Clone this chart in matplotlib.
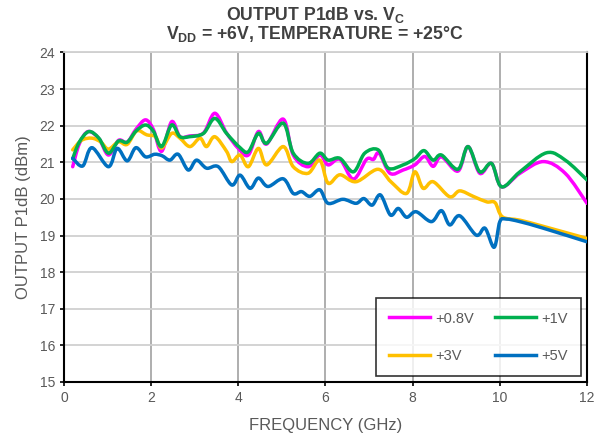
import matplotlib
matplotlib.use("Agg")
import matplotlib.pyplot as plt
from matplotlib.path import Path
from matplotlib.patches import PathPatch
from matplotlib.lines import Line2D

plt.rcParams['font.family'] = ['Liberation Sans', 'DejaVu Sans']
plt.rcParams['mathtext.default'] = 'regular'

# ---- data ----
f_08 = [0.2, 0.35, 0.55, 0.8, 1.02, 1.25, 1.45, 1.65, 1.87, 2.05, 2.24, 2.47, 2.66, 2.88, 3.2, 3.46, 3.73,
        4.0, 4.23, 4.46, 4.65, 5.03, 5.26, 5.6, 5.87, 6.06, 6.33, 6.64, 6.94, 7.1, 7.23, 7.48, 7.78, 8.05,
        8.28, 8.47, 8.66, 9.04, 9.27, 9.54, 9.81, 10.04, 10.46, 11.0, 11.5, 12.0]
p_08 = [20.88, 21.5, 21.84, 21.65, 21.2, 21.6, 21.55, 21.9, 22.16, 21.9, 21.3, 22.11, 21.7, 21.72, 21.8, 22.34, 21.8,
        21.38, 21.2, 21.84, 21.5, 22.18, 21.2, 20.88, 21.2, 20.93, 21.08, 20.54, 21.08, 21.08, 21.25, 20.7, 20.79, 20.93,
        21.16, 20.89, 21.15, 20.76, 21.43, 20.7, 20.97, 20.33, 20.7, 21.02, 20.7, 19.88]

f_1 = [0.2, 0.35, 0.57, 0.8, 1.02, 1.25, 1.45, 1.65, 1.87, 2.05, 2.24, 2.47, 2.66, 2.88, 3.2, 3.46, 3.73,
       4.04, 4.23, 4.46, 4.65, 5.03, 5.26, 5.6, 5.87, 6.06, 6.33, 6.64, 6.9, 7.21, 7.44, 7.78, 8.05,
       8.26, 8.47, 8.66, 9.04, 9.27, 9.54, 9.81, 10.04, 10.46, 11.07, 11.5, 12.0]
p_1 = [21.1, 21.55, 21.84, 21.66, 21.25, 21.58, 21.55, 21.85, 22.02, 21.85, 21.43, 22.02, 21.7, 21.7, 21.79, 22.2, 21.79,
       21.4, 21.29, 21.79, 21.52, 22.07, 21.25, 20.97, 21.25, 21.06, 21.11, 20.74, 21.25, 21.34, 20.84, 20.93, 21.1,
       21.32, 21.06, 21.2, 20.81, 21.43, 20.74, 20.97, 20.33, 20.74, 21.26, 21.06, 20.52]

f_3 = [0.2, 0.4, 0.64, 0.85, 1.02, 1.25, 1.45, 1.67, 1.9, 2.1, 2.24, 2.47, 2.66, 2.89, 3.12, 3.27, 3.46, 3.73,
       3.85, 4.04, 4.23, 4.46, 4.65, 5.03, 5.26, 5.6, 5.87, 6.06, 6.33, 6.7, 7.2, 7.5, 7.86, 8.05, 8.24, 8.47,
       8.85, 9.08, 9.39, 9.7, 9.89, 10.06, 10.46, 11.0, 12.0]
p_3 = [21.34, 21.6, 21.66, 21.55, 21.36, 21.56, 21.49, 21.86, 21.75, 21.7, 21.39, 21.79, 21.66, 21.43, 21.66, 21.43, 21.7, 21.3,
       21.02, 21.2, 20.88, 21.38, 20.93, 21.43, 20.88, 20.7, 21.06, 20.43, 20.66, 20.47, 20.81, 20.47, 20.15, 20.74, 20.29, 20.47,
       20.06, 20.22, 20.07, 19.92, 19.9, 19.51, 19.42, 19.25, 18.92]

f_5 = [0.2, 0.43, 0.64, 1.02, 1.22, 1.45, 1.65, 1.87, 2.08, 2.25, 2.43, 2.62, 2.85, 3.04, 3.27, 3.54, 3.85,
       4.04, 4.27, 4.46, 4.68, 5.03, 5.26, 5.45, 5.64, 5.87, 6.06, 6.4, 6.7, 6.88, 7.07, 7.26, 7.49, 7.67,
       7.86, 8.08, 8.43, 8.66, 8.85, 9.08, 9.46, 9.66, 9.87, 10.0, 10.15, 10.46, 11.0, 12.0]
p_5 = [21.11, 20.9, 21.4, 20.88, 21.38, 21.04, 21.4, 21.15, 21.22, 21.18, 21.06, 21.22, 20.79, 21.06, 20.84, 20.88, 20.38,
       20.65, 20.29, 20.57, 20.34, 20.55, 20.15, 20.2, 20.07, 20.25, 19.88, 19.99, 19.88, 20.01, 19.83, 20.11, 19.56, 19.74,
       19.5, 19.65, 19.38, 19.68, 19.29, 19.54, 19.01, 19.2, 18.68, 19.38, 19.45, 19.38, 19.2, 18.83]

labels = ['+0.8V', '+1V', '+3V', '+5V']
colors = ['#FF00FF', '#00B050', '#FFC000', '#0070C0']
x_ticks = [0, 2, 4, 6, 8, 10, 12]
y_ticks = [15, 16, 17, 18, 19, 20, 21, 22, 23, 24]


def smooth_path(xs, ys):
    """Smoothed line (Excel-style) via cubic Bezier segments through the data points."""
    n = len(xs)
    verts = [(xs[0], ys[0])]
    codes = [Path.MOVETO]
    for i in range(n - 1):
        x0, y0 = (xs[i - 1], ys[i - 1]) if i > 0 else (xs[i], ys[i])
        x1, y1 = xs[i], ys[i]
        x2, y2 = xs[i + 1], ys[i + 1]
        x3, y3 = (xs[i + 2], ys[i + 2]) if i + 2 < n else (xs[i + 1], ys[i + 1])
        c1 = (x1 + (x2 - x0) / 6.0, y1 + (y2 - y0) / 6.0)
        c2 = (x2 - (x3 - x1) / 6.0, y2 - (y3 - y1) / 6.0)
        verts += [c1, c2, (x2, y2)]
        codes += [Path.CURVE4] * 3
    return Path(verts, codes)


fig = plt.figure(figsize=(5.98, 4.36), dpi=100)
ax = fig.add_axes([0.107, 0.1239, 0.8746, 0.7557])

series = [(f_08, p_08), (f_1, p_1), (f_3, p_3), (f_5, p_5)]
zord = [3, 4, 3, 4]
for (fx, py), c, z in zip(series, colors, zord):
    patch = PathPatch(smooth_path(fx, py), facecolor='none', edgecolor=c, lw=2.5,
                      capstyle='round', joinstyle='round', zorder=z)
    ax.add_patch(patch)

ax.set_xlim(0, 12)
ax.set_ylim(15, 24)
ax.set_xticks(x_ticks)
ax.set_yticks(y_ticks)
ax.grid(axis='y', color='#d0d0d0', lw=1.3, zorder=0)
ax.grid(axis='x', color='#a8a8a8', lw=1.3, zorder=0)
ax.set_axisbelow(True)
for s in ['left', 'right', 'bottom']:
    ax.spines[s].set_color('black')
    ax.spines[s].set_linewidth(1.5)
ax.spines['top'].set_color('#d0d0d0')
ax.spines['top'].set_linewidth(1.3)
ax.tick_params(axis='both', labelsize=10, colors='#595959', length=3, width=1.2, direction='out')
ax.tick_params(axis='both', color='black')
ax.set_xlabel('FREQUENCY (GHz)', fontsize=12, color='#595959', labelpad=9)
ax.set_ylabel('OUTPUT P1dB (dBm)', fontsize=12, color='#595959', labelpad=6)

fig.text(0.527, 0.965, 'OUTPUT P1dB vs. V$_C$', ha='center', va='center',
         fontsize=12.7, fontweight='bold', color='#404040')
fig.text(0.527, 0.922, 'V$_{DD}$ = +6V, TEMPERATURE = +25°C', ha='center', va='center',
         fontsize=12.7, fontweight='bold', color='#404040')

handles = [Line2D([], [], color=c, lw=2.5) for c in colors]
order = [0, 2, 1, 3]
leg = ax.legend([handles[i] for i in order], [labels[i] for i in order], ncol=2,
                loc='lower right', bbox_to_anchor=(0.9885, 0.018), borderaxespad=0,
                fontsize=10.5, frameon=True, fancybox=False, handlelength=2.8,
                handletextpad=0.35, columnspacing=1.5, labelspacing=1.6, borderpad=0.9,
                labelcolor='#595959')
leg.get_frame().set_edgecolor('black')
leg.get_frame().set_linewidth(1.2)

fig.savefig('out.png', dpi=100)
